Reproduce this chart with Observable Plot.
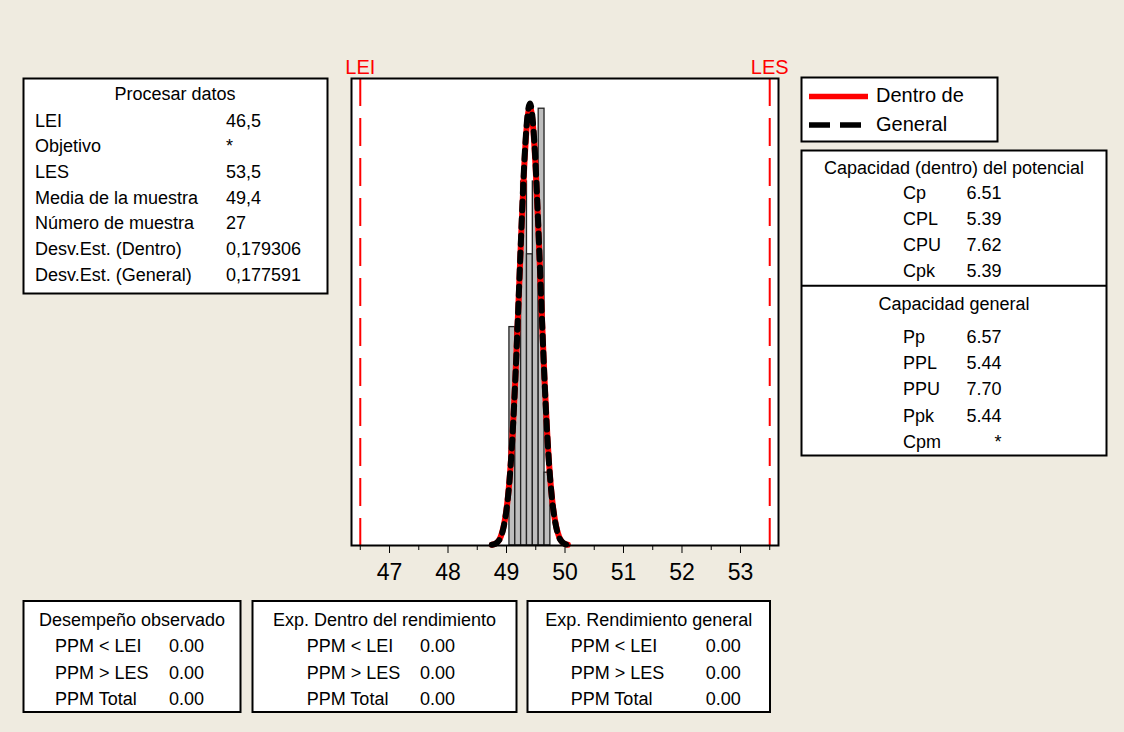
<!DOCTYPE html>
<html>
<head>
<meta charset="utf-8">
<script src="https://cdn.jsdelivr.net/npm/d3@7"></script>
<script src="https://cdn.jsdelivr.net/npm/@observablehq/plot@0.6"></script>
<style>
  html, body { margin: 0; padding: 0; background: #EFEBE0; }
  #wrap { position: relative; width: 1124px; height: 732px; background: #EFEBE0; overflow: hidden; }
  #wrap svg { position: absolute; left: 0; top: 0; }
</style>
</head>
<body>
<div id="wrap"></div>
<script>
// ---- Data ----
const binCenters = [49.1, 49.2, 49.3, 49.4, 49.5, 49.6, 49.7];
const binCounts  = [3, 3, 5, 4, 5, 6, 1];
const binWidth = 0.1;

// fitted normal curves (expected count per bin)
const curveX      = [48.75, 48.8, 48.85, 48.9, 48.95, 49.0, 49.05, 49.1, 49.15, 49.2, 49.25, 49.3, 49.35, 49.4,
                     49.45, 49.5, 49.55, 49.6, 49.65, 49.7, 49.75, 49.8, 49.85, 49.9, 49.95, 50.0, 50.05];
const curveWithin = [0.01, 0.02, 0.05, 0.12, 0.26, 0.50, 0.89, 1.48, 2.27, 3.23, 4.24, 5.15, 5.79, 6.02,
                     5.79, 5.15, 4.24, 3.23, 2.27, 1.48, 0.89, 0.50, 0.26, 0.12, 0.05, 0.02, 0.01];
const curveOverall = [0.01, 0.02, 0.05, 0.11, 0.25, 0.49, 0.88, 1.47, 2.27, 3.24, 4.26, 5.19, 5.83, 6.07,
                      5.83, 5.19, 4.26, 3.24, 2.27, 1.47, 0.88, 0.49, 0.25, 0.11, 0.05, 0.02, 0.01];

const specLimits = [46.5, 53.5];
const specNames  = ["LEI", "LES"];
const majorTicks = [47, 48, 49, 50, 51, 52, 53];
const minorTicks = [46.5, 47.5, 48.5, 49.5, 50.5, 51.5, 52.5, 53.5];

const procTitle  = "Procesar datos";
const procLabels = ["LEI", "Objetivo", "LES", "Media de la muestra", "Número de muestra", "Desv.Est. (Dentro)", "Desv.Est. (General)"];
const procValues = ["46,5", "*", "53,5", "49,4", "27", "0,179306", "0,177591"];

const legendNames = ["Dentro de", "General"];

const capWithinTitle  = "Capacidad (dentro) del potencial";
const capWithinLabels = ["Cp", "CPL", "CPU", "Cpk"];
const capWithinValues = ["6.51", "5.39", "7.62", "5.39"];
const capOverallTitle  = "Capacidad general";
const capOverallLabels = ["Pp", "PPL", "PPU", "Ppk", "Cpm"];
const capOverallValues = ["6.57", "5.44", "7.70", "5.44", "*"];

const ppmLabels = ["PPM < LEI", "PPM > LES", "PPM Total"];
const ppmTitles = ["Desempeño observado", "Exp. Dentro del rendimiento", "Exp. Rendimiento general"];
const ppmObserved = ["0.00", "0.00", "0.00"];
const ppmWithin   = ["0.00", "0.00", "0.00"];
const ppmOverall  = ["0.00", "0.00", "0.00"];

// ---- Chart ----
const FONT = "'Liberation Sans', Arial, sans-serif";
const bins = binCenters.map((c, i) => ({x1: c - binWidth / 2, x2: c + binWidth / 2, count: binCounts[i]}));
const within = curveX.map((x, i) => ({x, y: curveWithin[i]}));
const overall = curveX.map((x, i) => ({x, y: curveOverall[i]}));

const chart = Plot.plot({
  width: 1124,
  height: 600,
  marginLeft: 351,
  marginRight: 346,
  marginTop: 78,
  marginBottom: 55,
  style: {background: "transparent", fontFamily: FONT, color: "#000", overflow: "visible"},
  x: {domain: [46.35, 53.65]},
  y: {domain: [0, 6.415], axis: null},
  marks: [
    Plot.frame({fill: "white", stroke: null}),
    Plot.ruleX(specLimits, {stroke: "#FF0000", strokeWidth: 2, strokeDasharray: "28,12"}),
    Plot.rectY(bins, {x1: "x1", x2: "x2", y: "count", fill: "#BEBEBE", stroke: "#222", strokeWidth: 1.3, inset: 0}),
    Plot.line(within, {x: "x", y: "y", stroke: "#FF0000", strokeWidth: 6, curve: "natural"}),
    Plot.line(overall, {x: "x", y: "y", stroke: "#000", strokeWidth: 6, strokeDasharray: "9,8", curve: "natural"}),
    Plot.text(specLimits, {x: d => d, frameAnchor: "top", text: (d, i) => specNames[i], dy: -5, fill: "#FF0000", fontSize: 20, lineAnchor: "bottom"}),
    Plot.axisX(majorTicks, {tickSize: 8, tickPadding: 10, fontSize: 23, stroke: "#000", fill: "#000"}),
    Plot.axisX(minorTicks, {tickSize: 5, tickFormat: () => "", stroke: "#000"}),
    Plot.frame({stroke: "#000", strokeWidth: 2})
  ]
});
document.getElementById("wrap").appendChild(chart);

// ---- Text boxes ----
const svg = d3.select("#wrap").append("svg")
  .attr("width", 1124).attr("height", 732)
  .style("font-family", FONT).style("font-size", "18px");

function box(x, y, w, h) {
  svg.append("rect").attr("x", x).attr("y", y).attr("width", w).attr("height", h)
    .attr("fill", "white").attr("stroke", "#000").attr("stroke-width", 2);
}
function txt(x, y, s, anchor = "start", size = 18, fill = "#000") {
  svg.append("text").attr("x", x).attr("y", y).attr("text-anchor", anchor)
    .attr("font-size", size).attr("fill", fill).text(s);
}

// Procesar datos
box(23.5, 78.5, 304, 215);
txt(175, 100, procTitle, "middle");
procLabels.forEach((l, i) => {
  const y = 126.5 + i * 25.7;
  txt(35, y, l);
  txt(226, y, procValues[i]);
});

// Legend
box(801.5, 77.5, 196, 64);
svg.append("line").attr("x1", 809).attr("x2", 868).attr("y1", 96.5).attr("y2", 96.5)
  .attr("stroke", "#FF0000").attr("stroke-width", 5.5);
svg.append("line").attr("x1", 809).attr("x2", 866).attr("y1", 125).attr("y2", 125)
  .attr("stroke", "#000").attr("stroke-width", 5.5).attr("stroke-dasharray", "21,10");
txt(876, 102, legendNames[0], "start", 20);
txt(876, 131, legendNames[1], "start", 20);

// Capacity box
box(801.5, 150.5, 305, 305);
txt(954, 174, capWithinTitle, "middle");
capWithinLabels.forEach((l, i) => {
  const y = 199 + i * 26;
  txt(903, y, l);
  txt(1001.5, y, capWithinValues[i], "end");
});
svg.append("line").attr("x1", 801.5).attr("x2", 1106.5).attr("y1", 285.7).attr("y2", 285.7)
  .attr("stroke", "#000").attr("stroke-width", 2);
txt(954, 310, capOverallTitle, "middle");
capOverallLabels.forEach((l, i) => {
  const y = 343 + i * 26.2;
  txt(903, y, l);
  txt(1001.5, y, capOverallValues[i], "end");
});

// PPM boxes
const ppmBoxes = [
  {x: 23.5, w: 217, lx: 55, vx: 169, vals: ppmObserved},
  {x: 252.5, w: 264, lx: 306.7, vx: 420, vals: ppmWithin},
  {x: 527.5, w: 242.5, lx: 570.7, vx: 705.7, vals: ppmOverall}
];
ppmBoxes.forEach((b, k) => {
  box(b.x, 601, b.w, 111);
  txt(b.x + b.w / 2, 625.7, ppmTitles[k], "middle");
  ppmLabels.forEach((l, i) => {
    const y = 652.3 + i * 26.3;
    txt(b.lx, y, l);
    txt(b.vx, y, b.vals[i]);
  });
});
</script>
</body>
</html>
